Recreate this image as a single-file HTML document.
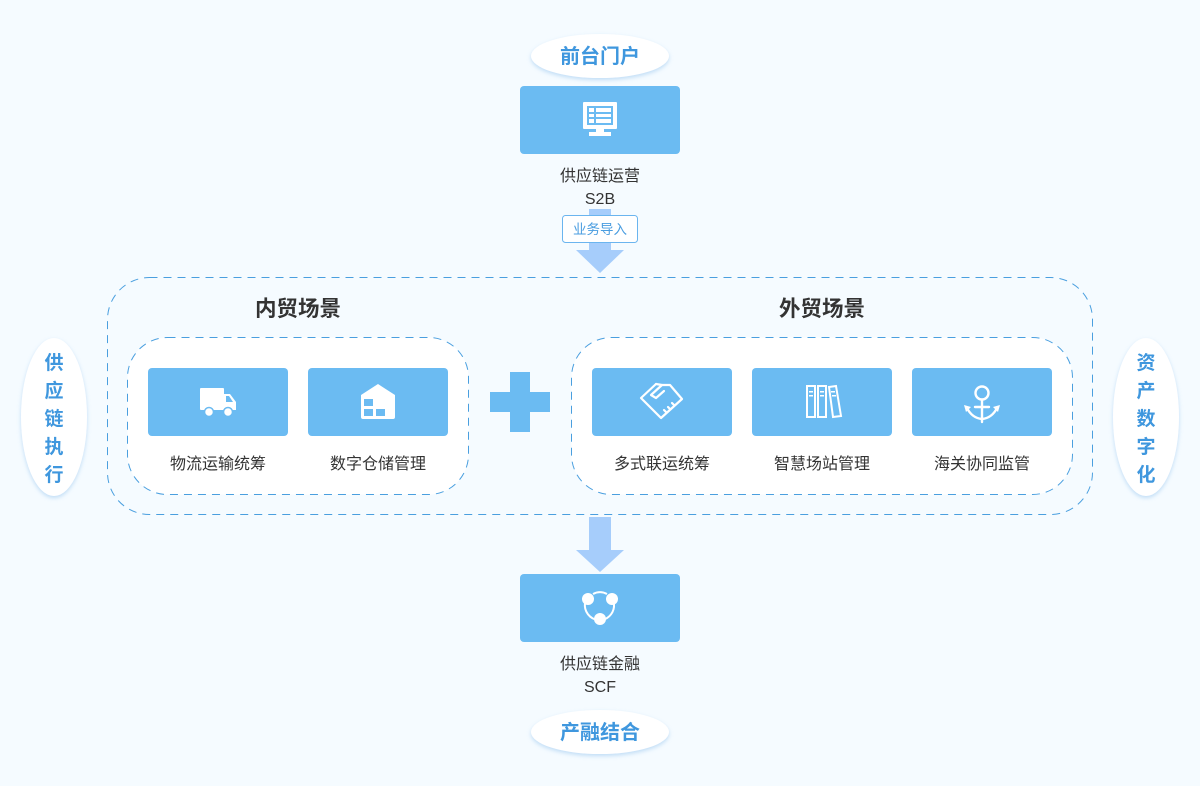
<!DOCTYPE html>
<html><head><meta charset="utf-8">
<style>
html,body{margin:0;padding:0;background:#f5fbff;}
svg{display:block;}
text{font-family:"Liberation Sans","Noto Sans CJK SC",sans-serif;}
</style></head>
<body>
<svg width="1200" height="786" viewBox="0 0 1200 786" xmlns="http://www.w3.org/2000/svg">
<defs>
<filter id="sh" x="-30%" y="-30%" width="160%" height="160%">
<feDropShadow dx="0" dy="2" stdDeviation="2" flood-color="#7fb8ea" flood-opacity="0.45"/>
</filter>
</defs>
<rect width="1200" height="786" fill="#f5fbff"/>

<!-- top ellipse -->
<ellipse cx="600" cy="56" rx="69" ry="22" fill="#fff" filter="url(#sh)"/>
<text x="600" y="63" text-anchor="middle" font-size="20" font-weight="bold" fill="#3f97de">前台门户</text>

<!-- top card -->
<rect x="520" y="86" width="160" height="68" rx="4" fill="#6bbbf2"/>
<g fill="#fff">
<rect x="583" y="102" width="34" height="27" rx="1"/>
<rect x="596" y="129" width="8" height="4"/>
<rect x="589" y="132" width="22" height="4"/>
</g>
<g fill="#6bbbf2">
<rect x="587" y="106" width="26" height="19"/>
</g>
<g fill="#fff">
<rect x="589" y="108" width="5" height="4"/>
<rect x="596" y="108" width="15" height="4"/>
<rect x="589" y="114" width="5" height="3"/>
<rect x="596" y="114" width="15" height="3"/>
<rect x="589" y="119" width="5" height="4"/>
<rect x="596" y="119" width="15" height="4"/>
</g>
<text x="600" y="181" text-anchor="middle" font-size="16" fill="#333">供应链运营</text>
<text x="600" y="204" text-anchor="middle" font-size="16" fill="#333">S2B</text>

<!-- top arrow -->
<rect x="589" y="209" width="22" height="42" fill="#a6cdfb"/>
<polygon points="576,250 624,250 600,273" fill="#a6cdfb"/>
<rect x="562.5" y="215.5" width="75" height="27" rx="3" fill="#fff" stroke="#6bb5ef" stroke-width="1"/>
<text x="600" y="234" text-anchor="middle" font-size="13.5" fill="#4a9de0">业务导入</text>

<!-- outer dashed box -->
<rect x="107.5" y="277.5" width="985" height="237" rx="42" fill="none" stroke="#4a9fdf" stroke-width="1" stroke-dasharray="8,6"/>

<text x="298" y="316" text-anchor="middle" font-size="21.5" font-weight="bold" fill="#333">内贸场景</text>
<text x="822" y="316" text-anchor="middle" font-size="21.5" font-weight="bold" fill="#333">外贸场景</text>

<!-- inner boxes -->
<rect x="127.5" y="337.5" width="341" height="157" rx="40" fill="#fff" stroke="#4a9fdf" stroke-width="1" stroke-dasharray="8,6"/>
<rect x="571.5" y="337.5" width="501" height="157" rx="40" fill="#fff" stroke="#4a9fdf" stroke-width="1" stroke-dasharray="8,6"/>

<!-- plus -->
<rect x="490" y="392" width="60" height="20" fill="#6bbbf2"/>
<rect x="510" y="372" width="20" height="60" fill="#6bbbf2"/>

<!-- cards -->
<g fill="#6bbbf2">
<rect x="148" y="368" width="140" height="68" rx="4"/>
<rect x="308" y="368" width="140" height="68" rx="4"/>
<rect x="592" y="368" width="140" height="68" rx="4"/>
<rect x="752" y="368" width="140" height="68" rx="4"/>
<rect x="912" y="368" width="140" height="68" rx="4"/>
</g>

<!-- truck -->
<g fill="#fff">
<rect x="200" y="388" width="24" height="22" rx="1"/>
<path d="M224,394 H230 L236,402 V410 H224 Z"/>
<circle cx="209" cy="412" r="4.5" stroke="#6bbbf2" stroke-width="1.5"/>
<circle cx="228" cy="412" r="4.5" stroke="#6bbbf2" stroke-width="1.5"/>
</g>
<path d="M226,396 H229 L233,402 H226 Z" fill="#6bbbf2"/>

<!-- house -->
<path d="M361,395 L378,384 L395,395 V417 a2,2 0 0 1 -2,2 H363 a2,2 0 0 1 -2,-2 Z" fill="#fff"/>
<g fill="#6bbbf2">
<rect x="364" y="399" width="9" height="7"/>
<rect x="364" y="409" width="9" height="7"/>
<rect x="376" y="409" width="9" height="7"/>
</g>

<!-- handshake -->
<g fill="none" stroke="#fff" stroke-width="2.2" stroke-linejoin="round" stroke-linecap="round">
<path d="M656,384 L641,398 L654,411 L661,418 L682,399 L670,385 L662,385 L651,395 L656,398 L664,391"/>
<path d="M656,384 L662,385"/>
<path d="M664,410 l2,2 M668,407 l2,2 M672,403 l2,2"/>
</g>

<!-- books -->
<g fill="none" stroke="#fff" stroke-width="2">
<rect x="807" y="386" width="8" height="31"/>
<rect x="818" y="386" width="8" height="31"/>
<path d="M829,387 L836,386 L841,416 L833,417 Z"/>
</g>
<g fill="#fff">
<rect x="809" y="391" width="4" height="1.5"/><rect x="809" y="395" width="4" height="1.5"/>
<rect x="820" y="391" width="4" height="1.5"/><rect x="820" y="395" width="4" height="1.5"/>
<rect x="831" y="391" width="4" height="1.5"/><rect x="832" y="395" width="4" height="1.5"/>
</g>

<!-- anchor -->
<g fill="none" stroke="#fff" stroke-width="2.4" stroke-linecap="round">
<circle cx="982" cy="393" r="6.5"/>
<line x1="982" y1="400" x2="982" y2="422"/>
<line x1="975" y1="407" x2="989" y2="407"/>
<path d="M967,408 Q972,418 982,419 Q992,418 997,408"/>
</g>
<g fill="#fff">
<polygon points="964,405 971,407 966,412"/>
<polygon points="1000,405 993,407 998,412"/>
</g>

<!-- card labels -->
<g font-size="16" fill="#333" text-anchor="middle">
<text x="218" y="469">物流运输统筹</text>
<text x="378" y="469">数字仓储管理</text>
<text x="662" y="469">多式联运统筹</text>
<text x="822" y="469">智慧场站管理</text>
<text x="982" y="469">海关协同监管</text>
</g>

<!-- side ellipses -->
<ellipse cx="54" cy="417" rx="33" ry="79" fill="#fff" filter="url(#sh)"/>
<ellipse cx="1146" cy="417" rx="33" ry="79" fill="#fff" filter="url(#sh)"/>
<g font-size="19" font-weight="bold" fill="#3f97de" text-anchor="middle">
<text x="54" y="369">供</text>
<text x="54" y="397">应</text>
<text x="54" y="425">链</text>
<text x="54" y="453">执</text>
<text x="54" y="481">行</text>
<text x="1146" y="369">资</text>
<text x="1146" y="397">产</text>
<text x="1146" y="425">数</text>
<text x="1146" y="453">字</text>
<text x="1146" y="481">化</text>
</g>

<!-- bottom arrow -->
<rect x="589" y="517" width="22" height="34" fill="#a6cdfb"/>
<polygon points="576,550 624,550 600,572" fill="#a6cdfb"/>

<!-- bottom card -->
<rect x="520" y="574" width="160" height="68" rx="4" fill="#6bbbf2"/>
<g fill="none" stroke="#fff" stroke-width="2">
<path d="M585,603 A15,15 0 0 0 598,620"/>
<path d="M602,620 A15,15 0 0 0 614,604"/>
<path d="M593,594 A15,15 0 0 1 607,594"/>
</g>
<g fill="#fff">
<circle cx="588" cy="599" r="6"/>
<circle cx="612" cy="599" r="6"/>
<circle cx="600" cy="619" r="6"/>
</g>
<text x="600" y="669" text-anchor="middle" font-size="16" fill="#333">供应链金融</text>
<text x="600" y="692" text-anchor="middle" font-size="16" fill="#333">SCF</text>

<!-- bottom ellipse -->
<ellipse cx="600" cy="732" rx="69" ry="22" fill="#fff" filter="url(#sh)"/>
<text x="600" y="739" text-anchor="middle" font-size="20" font-weight="bold" fill="#3f97de">产融结合</text>
</svg>
</body></html>
